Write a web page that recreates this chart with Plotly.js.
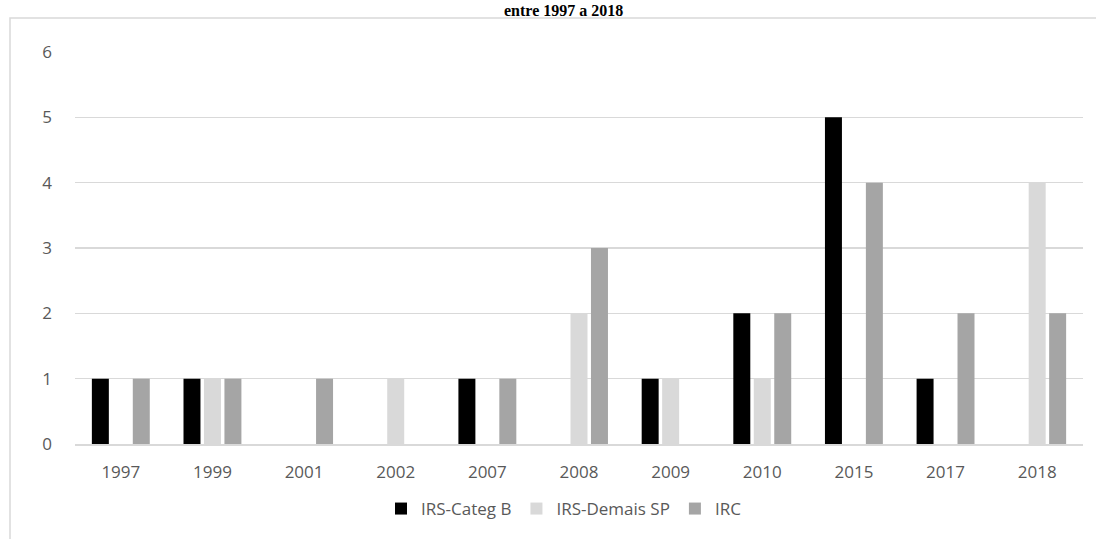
<!DOCTYPE html>
<html>
<head>
<meta charset="utf-8">
<script src="https://cdn.plot.ly/plotly-3.0.1.min.js"></script>
<style>html,body{margin:0;padding:0;background:#fff;}#chart{width:1096px;height:539px;}</style>
</head>
<body>
<div id="chart"></div>
<script>
const categories = ["1997","1999","2001","2002","2007","2008","2009","2010","2015","2017","2018"];
const irsCategB = [1,1,0,0,1,0,1,2,5,1,0];
const irsDemaisSP = [0,1,0,1,0,2,1,1,0,0,4];
const irc = [1,1,1,0,1,3,0,2,4,2,2];
const seriesNames = ["IRS-Categ B","IRS-Demais SP","IRC"];
const seriesColors = ["#000000","#d9d9d9","#a5a5a5"];
const titleText = "entre 1997 a 2018";

const values = [irsCategB, irsDemaisSP, irc];
const traces = values.map((v,i)=>({
  type:"bar", x:categories, y:v, name:seriesNames[i],
  marker:{color:seriesColors[i], line:{width:0}}
}));

const W=1096,H=539,ml=75,mr=13,mt=52,mb=95;
const pw=W-ml-mr, ph=H-mt-mb;
const px=x=>(x-ml)/pw, py=y=>(H-mb-y)/ph;

const layout = {
  width:W, height:H,
  margin:{l:ml,r:mr,t:mt,b:mb},
  paper_bgcolor:"#ffffff", plot_bgcolor:"#ffffff",
  barmode:"group", bargap:0.33, bargroupgap:0.17,
  font:{family:"Open Sans, sans-serif", size:17, color:"#595959"},
  xaxis:{type:"category", showgrid:false, showline:true, linecolor:"#d9d9d9", linewidth:1.5,
         ticks:"", tickfont:{size:17,color:"#595959"}, zeroline:false, fixedrange:true,
         ticklabelstandoff:12},
  yaxis:{range:[0,6], dtick:1, showgrid:true, gridcolor:"#d9d9d9", gridwidth:1.5,
         zeroline:false, showline:false, ticks:"", ticklen:0, tickfont:{size:17,color:"#595959"},
         ticklabelstandoff:22, fixedrange:true},
  showlegend:true,
  legend:{orientation:"h", x:px(564), xanchor:"center", y:py(509), yanchor:"middle",
          font:{size:17,color:"#595959"}, itemwidth:30, traceorder:"normal"},
  shapes:[{type:"rect", xref:"paper", yref:"paper", x0:px(10), x1:1.2, y0:-0.5, y1:py(18),
           line:{color:"#d9d9d9", width:1.5}, fillcolor:"rgba(0,0,0,0)", layer:"below"}],
  annotations:[{text:"<b>"+titleText+"</b>", xref:"paper", yref:"paper", x:px(563), y:py(0),
                xanchor:"center", yanchor:"top", showarrow:false,
                font:{family:"Liberation Serif, serif", size:16, color:"#000000"}}]
};
Plotly.newPlot("chart", traces, layout, {displayModeBar:false, staticPlot:true});
</script>
</body>
</html>
